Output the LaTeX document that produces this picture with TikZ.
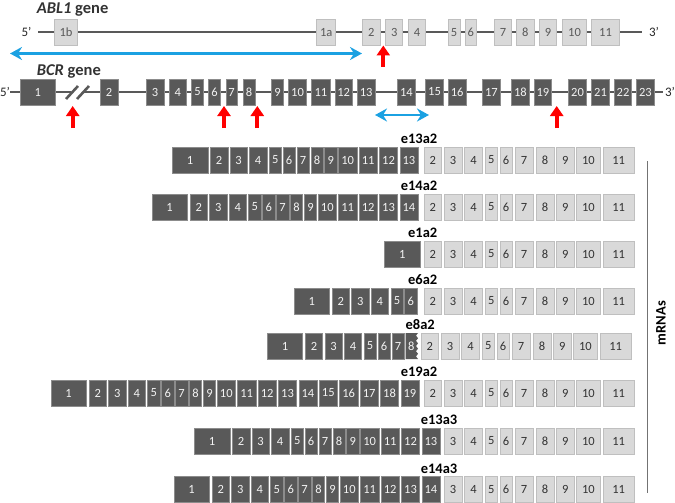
\documentclass[tikz,border=0pt]{standalone}
\usepackage{fontspec}
\setmainfont{Carlito}
\usetikzlibrary{arrows.meta}
\definecolor{dk}{HTML}{595959}
\definecolor{dkb}{HTML}{8C8C8C}
\definecolor{lt}{HTML}{D9D9D9}
\definecolor{ltb}{HTML}{BFBFBF}
\definecolor{gtxt}{HTML}{595959}
\definecolor{mtxt}{HTML}{333333}
\definecolor{bl}{HTML}{1BA1E2}
\definecolor{rd}{HTML}{FF0000}
\tikzset{
  boxbase/.style={anchor=north west, inner sep=0pt, outer sep=0pt, minimum height=26pt,
    line width=0.5pt, font=\fontsize{12.5}{12.5}\selectfont},
  dbox/.style={boxbase, fill=dk, draw=dkb, text=white!95!black},
  lbox/.style={boxbase, fill=lt, draw=ltb, text=mtxt},
  gabl/.style={boxbase, minimum height=25.5pt, fill=lt, draw=ltb, text=gtxt},
  gline/.style={draw=dk, line width=2.3pt},
  bluearrow/.style={draw=bl, line width=2.6pt, {Stealth[length=12pt,width=13pt,inset=4pt]}-{Stealth[length=12pt,width=13pt,inset=4pt]}},
  redarrow/.style={draw=rd, line width=4pt, -{Triangle[length=10pt,width=13pt]}},
  rowlabel/.style={anchor=east, inner sep=0pt, font=\fontsize{14.5}{14.5}\selectfont\bfseries},
  genelabel/.style={anchor=base west, inner sep=0pt, text=mtxt, font=\fontsize{16.5}{16.5}\selectfont\bfseries},
  endlabel/.style={inner sep=0pt, text=black!85, font=\fontsize{13}{13}\selectfont},
}
\newcommand{\bcrrow}[4]{%
  \foreach \k/\xo/\w in {1/0/35.5, 2/38.1/17.4, 3/57.6/17.4, 4/77.1/17.4, 5/96.8/12.3,
      6/110.7/12.3, 7/124.6/12.3, 8/138.5/12.3, 9/152.4/12.3, 10/166.3/18.2,
      11/186.7/18.2, 12/207.1/18.2, 13/227.5/18.2, 14/247.9/18.2, 15/268.3/18.2,
      16/288.7/18.2, 17/309.1/18.2, 18/329.5/18.2, 19/349.9/18.2}{%
    \ifnum\k>#4\relax\else
      \node[dbox, minimum width=\w pt] (#1b\k) at (#2+\xo,#3) {\k};
    \fi}}
\newcommand{\ablrow}[4]{%
  \foreach \k/\xo/\w in {2/424/17.7, 3/444/18, 4/464.3/18.4, 5/485.3/12, 6/500/12.3,
      7/515/18.3, 8/536/18, 9/556.7/17.3, 10/576.7/23.3, 11/603.3/30.7}{%
    \ifnum\k<#4\relax\else
      \node[lbox, minimum width=\w pt] (#1a\k) at (#2+\xo,#3) {\k};
    \fi}}
\begin{document}
\begin{tikzpicture}[x=1pt, y=-1pt]
\useasboundingbox (0,0) rectangle (675,503);

% ---------------- ABL1 gene ----------------
\node[genelabel] (abllabel) at (36.7,13.5) {\textit{ABL1} gene};
\node[endlabel] (abl5) at (26.5,32) {5’};
\node[endlabel] (abl3) at (654,32) {3’};
\coordinate (abll) at (38,32);
\coordinate (ablr) at (642,32);
\draw[gline] (abll) -- (ablr);
\foreach \n/\xo/\w in {1b/54.3/23.4, 1a/316.7/19, 2/362.7/17.3, 3/385.7/17, 4/408.3/17.4,
    5/448.3/11.7, 6/465/11.7, 7/494.3/17.4, 8/516.7/17.3, 9/539.3/17.4, 10/562.3/24.4, 11/591.7/27.6}{%
  \node[gabl, minimum width=\w pt] (g\n) at (\xo,19.3) {\n};}

% blue arrow ABL
\coordinate (ba1) at (10,53.5);
\coordinate (ba2) at (362,53.5);
\draw[bluearrow] (ba1) -- (ba2);
% red arrow ABL exon 2
\coordinate (ra0) at (383.3,67);
\draw[redarrow] (ra0) -- (383.3,45.5);

% ---------------- BCR gene ----------------
\node[genelabel] (bcrlabel) at (36.7,75.5) {\textit{BCR} gene};
\node[endlabel] (bcr5) at (5,91.5) {5’};
\node[endlabel] (bcr3) at (670,91.5) {3’};
\coordinate (bl0) at (10,92);
\coordinate (bl1) at (71,92);
\coordinate (bl2) at (84,92);
\coordinate (bl3) at (663,92);
\draw[gline] (bl0) -- (bl1);
\draw[gline] (bl2) -- (bl3);
\coordinate (s1a) at (66,99);
\coordinate (s1b) at (78,86);
\coordinate (s2a) at (77,99);
\coordinate (s2b) at (89,86);
\draw[draw=dk, line width=2.6pt] (s1a) -- (s1b);
\draw[draw=dk, line width=2.6pt] (s2a) -- (s2b);
\foreach \n/\xo/\w in {1/20.7/34.3, 2/100/18.3, 3/146/18.3, 4/169/17.7, 5/191.7/11.6,
    6/208.3/12.4, 7/226/11.3, 8/243.3/11.7, 9/271.7/11.6, 10/288.3/18.4, 11/311.7/18.3,
    12/335/17.3, 13/357.3/17.7, 14/397.7/17.3, 15/425.7/17.6, 16/448.3/17.7, 17/482.7/17.3,
    18/511.7/17.3, 19/534/17.7, 20/568.3/18.4, 21/591.7/17.6, 22/614.3/17.4, 23/636.7/17.3}{%
  \node[dbox, minimum width=\w pt] (c\n) at (\xo,79) {\n};}

% blue arrow BCR
\coordinate (bb1) at (375,115);
\coordinate (bb2) at (429,115);
\draw[bluearrow] (bb1) -- (bb2);
% red arrows BCR
\coordinate (rb1) at (72.7,128);
\coordinate (rb2) at (224,128);
\coordinate (rb3) at (257.3,128);
\coordinate (rb4) at (556.7,128);
\draw[redarrow] (rb1) -- (72.7,106);
\draw[redarrow] (rb2) -- (224,106);
\draw[redarrow] (rb3) -- (257.3,106);
\draw[redarrow] (rb4) -- (556.7,106);

% ---------------- mRNAs ----------------
% e13a2
\node[rowlabel] (l1) at (437.5,139) {e13a2};
\bcrrow{r1}{172.3}{147}{13}
\ablrow{r1}{0}{147}{2}
% e14a2
\node[rowlabel] (l2) at (437.5,186) {e14a2};
\bcrrow{r2}{151.9}{194}{14}
\ablrow{r2}{0}{194}{2}
% e1a2
\node[rowlabel] (l3) at (437.5,233) {e1a2};
\bcrrow{r3}{384.5}{241}{1}
\ablrow{r3}{0}{241}{2}
% e6a2
\node[rowlabel] (l4) at (437.5,280) {e6a2};
\bcrrow{r4}{294}{288}{6}
\ablrow{r4}{0}{288}{2}
% e8a2
\node[rowlabel] (l5) at (435,325) {e8a2};
\bcrrow{r5}{267.2}{333}{7}
\fill[dk] (405.7,333) -- (418,333) -- (416,335.6) -- (418,338.2) -- (416,340.8) -- (418,343.4)
  -- (416,346) -- (418,348.6) -- (416,351.2) -- (418,353.8) -- (416,356.4) -- (418,359)
  -- (405.7,359) -- cycle;
\node[inner sep=0pt, text=white!95!black, font=\fontsize{12.5}{12.5}\selectfont] (r5b8) at (411.2,346) {8};
\ablrow{r5}{-3}{333}{2}
% e19a2
\node[rowlabel] (l6) at (437.5,372) {e19a2};
\bcrrow{r6}{50.9}{380}{19}
\ablrow{r6}{0}{380}{2}
% e13a3
\node[rowlabel] (l7) at (457.5,420) {e13a3};
\bcrrow{r7}{194.3}{428}{13}
\ablrow{r7}{0}{428}{3}
% e14a3
\node[rowlabel] (l8) at (457.5,468.5) {e14a3};
\bcrrow{r8}{173.9}{476.7}{14}
\ablrow{r8}{0}{476.7}{3}

% mRNAs bracket
\coordinate (mv1) at (647.5,161);
\coordinate (mv2) at (647.5,493);
\draw[draw=black!55, line width=1.4pt] (mv1) -- (mv2);
\node[rotate=90, inner sep=0pt, font=\fontsize{14.5}{14.5}\selectfont\bfseries] (mlab) at (661,323) {mRNAs};
\end{tikzpicture}
\end{document}
